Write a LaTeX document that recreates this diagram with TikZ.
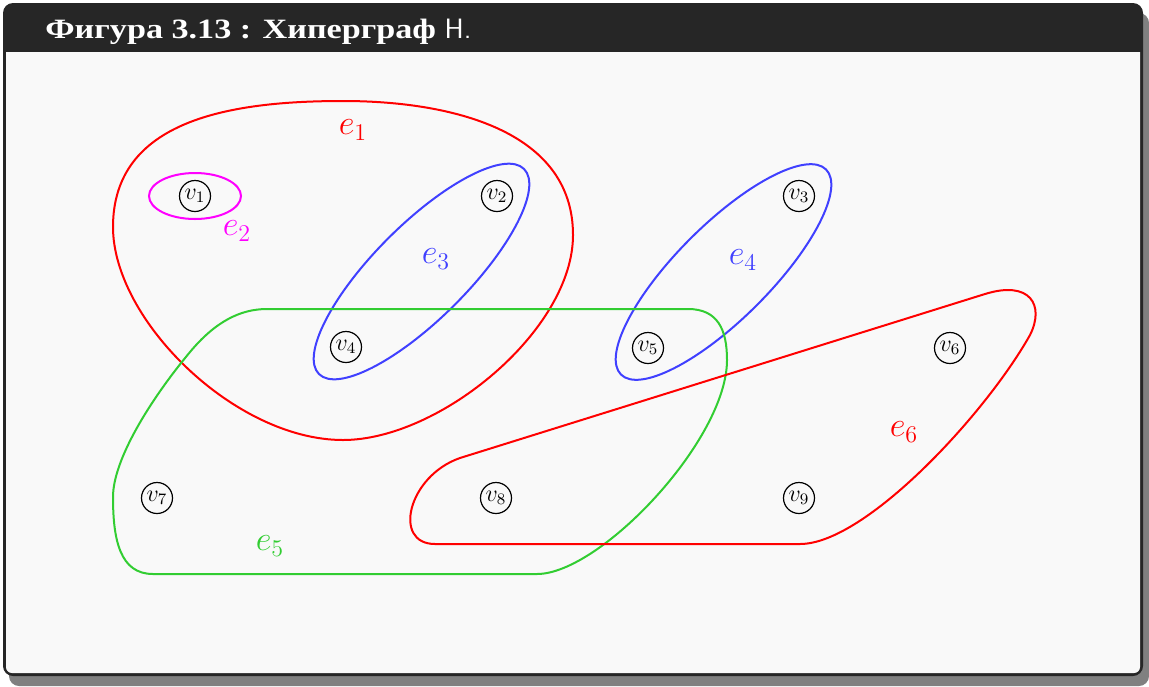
\documentclass[tikz,border=0pt]{standalone}
\usepackage{amsmath,amssymb}
\usepackage{fontspec}
\usepackage{tikz}
\usepackage{xcolor}
\newfontfamily\titlefont[FakeStretch=1.22]{Liberation Serif}
\definecolor{framedark}{RGB}{38,38,38}
\definecolor{framebg}{RGB}{249,249,249}
\definecolor{shadowgray}{RGB}{128,128,128}
\definecolor{edgered}{RGB}{255,0,0}
\definecolor{edgemagenta}{RGB}{255,0,255}
\definecolor{edgeblue}{RGB}{64,64,255}
\definecolor{edgegreen}{RGB}{50,205,50}

\begin{document}
\begin{tikzpicture}[x=0.5pt, y=-0.5pt,
  vertex/.style={circle, draw, line width=0.6pt, inner sep=1pt, minimum size=15.5pt, font=\large},
  elabel/.style={font=\LARGE},
  hedge/.style={line width=1pt}]
\useasboundingbox (0,0) rectangle (1149,686);
\fill[shadowgray, rounded corners=5pt] (9,13) rectangle (1149,686);
\fill[framedark, rounded corners=5pt] (3,3) rectangle (1143,676);
\fill[framebg] (6,52) -- (1140,52) {[rounded corners=3pt] -- (1140,673) -- (6,673)} -- cycle;
\node[anchor=base west, text=white, font=\fontsize{14}{17}\titlefont\bfseries, inner sep=0pt] (title) at (45,38) {Фигура 3.13 : Хиперграф {\sffamily\mdseries H.}};

\node[vertex] (v1) at (195,196) {$v_1$};
\node[vertex] (v2) at (497,196) {$v_2$};
\node[vertex] (v3) at (799,196) {$v_3$};
\node[vertex] (v4) at (346,347) {$v_4$};
\node[vertex] (v5) at (648,348) {$v_5$};
\node[vertex] (v6) at (950,348) {$v_6$};
\node[vertex] (v7) at (157,498) {$v_7$};
\node[vertex] (v8) at (496,498) {$v_8$};
\node[vertex] (v9) at (799,498) {$v_9$};

\coordinate (c3) at (421.5,271.5);
\coordinate (c4) at (723.5,272);
\draw[hedge, edgered] (343,101) .. controls (450,101) and (573,130) .. (573,235)
  .. controls (573,330) and (440,440) .. (343,440)
  .. controls (235,440) and (113,320) .. (113,227)
  .. controls (113,120) and (230,101) .. (343,101) -- cycle;
\draw[hedge, edgemagenta] (v1) ellipse [x radius=46, y radius=23];
\draw[hedge, edgeblue, rotate around={45:(c3)}] (c3) ellipse [x radius=145, y radius=47];
\draw[hedge, edgeblue, rotate around={45:(c4)}] (c4) ellipse [x radius=145, y radius=47];
\draw[hedge, edgegreen] (267,309) -- (688,309) .. controls (718,309) and (727,330) .. (727,360)
  .. controls (727,440) and (600,574) .. (537,574) -- (153,574)
  .. controls (120,574) and (113,540) .. (113,497) .. controls (113,460) and (150,400) .. (190,352)
  .. controls (215,322) and (240,309) .. (267,309) -- cycle;
\draw[hedge, edgered] (435,544) -- (800,544) .. controls (865,544) and (985,415) .. (1030,335)
  .. controls (1045,305) and (1030,280) .. (985,294) -- (460,458)
  .. controls (408,476) and (392,544) .. (435,544) -- cycle;

\node[elabel, text=edgered] (e1) at (353,130) {$e_1$};
\node[elabel, text=edgemagenta] (e2) at (237,231) {$e_2$};
\node[elabel, text=edgeblue] (e3) at (436,259) {$e_3$};
\node[elabel, text=edgeblue] (e4) at (743,260) {$e_4$};
\node[elabel, text=edgegreen] (e5) at (270,546) {$e_5$};
\node[elabel, text=edgered] (e6) at (904,432) {$e_6$};
\end{tikzpicture}
\end{document}
